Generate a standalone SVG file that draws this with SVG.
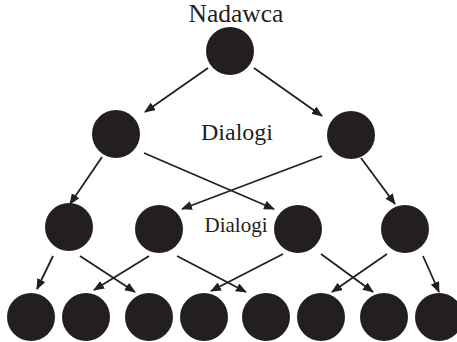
<svg xmlns="http://www.w3.org/2000/svg" width="457" height="342" viewBox="0 0 457 342">
<style>
.n{fill:#231f20}
.c line{stroke:#231f20;stroke-width:1.8;marker-end:url(#ah)}
.t{font-family:"Liberation Serif","DejaVu Serif",serif;fill:#231f20;text-anchor:middle}
</style>
<defs>
<marker id="ah" markerUnits="userSpaceOnUse" markerWidth="11" markerHeight="9" refX="10" refY="4.5" orient="auto">
<path d="M0,0 L11,4.5 L0,9 z" fill="#231f20"/>
</marker>
</defs>
<rect width="457" height="342" fill="#fff"/>
<text class="t" x="236" y="22" font-size="25.5">Nadawca</text>
<text class="t" x="237" y="140" font-size="24">Dialogi</text>
<text class="t" x="236" y="232" font-size="21">Dialogi</text>
<g id="top"><circle class="n" cx="230" cy="51" r="24"/></g>
<g id="l2a"><circle class="n" cx="116" cy="134" r="24"/></g>
<g id="l2b"><circle class="n" cx="351" cy="135" r="24"/></g>
<g id="l3a"><circle class="n" cx="69" cy="227" r="24"/></g>
<g id="l3b"><circle class="n" cx="159" cy="229" r="24"/></g>
<g id="l3c"><circle class="n" cx="298" cy="229" r="24"/></g>
<g id="l3d"><circle class="n" cx="405" cy="229" r="24"/></g>
<g id="l4a"><circle class="n" cx="31" cy="317" r="24"/></g>
<g id="l4b"><circle class="n" cx="86" cy="317" r="24"/></g>
<g id="l4c"><circle class="n" cx="149" cy="317" r="24"/></g>
<g id="l4d"><circle class="n" cx="204" cy="317" r="24"/></g>
<g id="l4e"><circle class="n" cx="266" cy="317" r="24"/></g>
<g id="l4f"><circle class="n" cx="321" cy="317" r="24"/></g>
<g id="l4g"><circle class="n" cx="384" cy="317" r="24"/></g>
<g id="l4h"><circle class="n" cx="439" cy="317" r="24"/></g>
<g class="c" id="connectors">
<line x1="208" y1="68" x2="145" y2="112"/>
<line x1="254" y1="68" x2="322" y2="116"/>
<line x1="102" y1="157" x2="70" y2="204"/>
<line x1="144" y1="153" x2="274" y2="209"/>
<line x1="322" y1="156" x2="182" y2="209"/>
<line x1="361" y1="158" x2="395" y2="204"/>
<line x1="53" y1="256" x2="37" y2="289"/>
<line x1="80" y1="256" x2="135" y2="292"/>
<line x1="149" y1="256" x2="94" y2="290"/>
<line x1="177" y1="256" x2="246" y2="292"/>
<line x1="283" y1="254" x2="211" y2="291"/>
<line x1="321" y1="254" x2="373" y2="292"/>
<line x1="387" y1="254" x2="332" y2="292"/>
<line x1="423" y1="256" x2="439" y2="292"/>
</g>
</svg>
